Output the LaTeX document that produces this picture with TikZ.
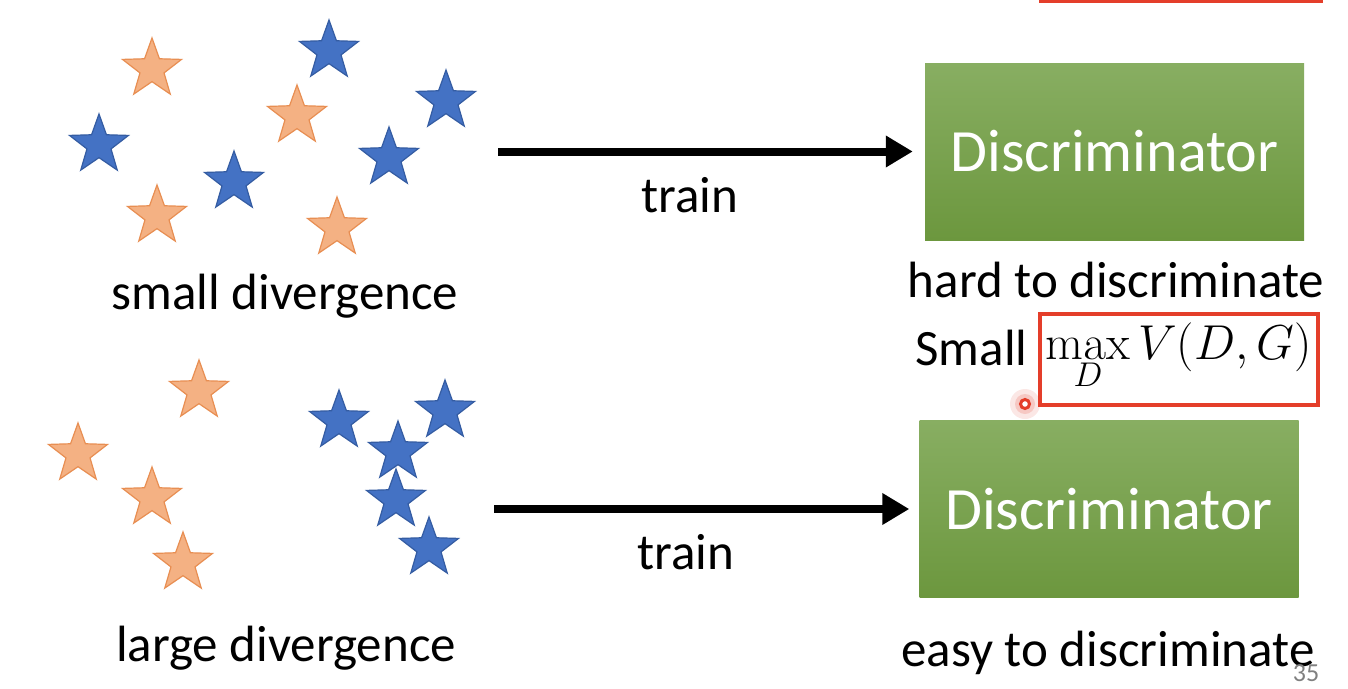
\documentclass[tikz,border=0pt]{standalone}
\usepackage{fix-cm}
\usepackage[no-math]{fontspec}
\setmainfont{Carlito}
\usetikzlibrary{shapes.geometric}
\usetikzlibrary{arrows.meta}

\definecolor{starorange}{RGB}{244,177,131}
\definecolor{orangeedge}{RGB}{232,142,82}
\definecolor{starblue}{RGB}{68,114,196}
\definecolor{blueedge}{RGB}{52,92,162}
\definecolor{boxtop}{RGB}{136,174,98}
\definecolor{boxbottom}{RGB}{108,151,62}
\definecolor{markred}{RGB}{228,62,42}

\begin{document}
\begin{tikzpicture}[x=1pt, y=-1pt,
 ostar/.style={star, star points=5, star point ratio=2.45, minimum size=62pt, inner sep=0, fill=starorange, draw=orangeedge, line width=1.2pt},
 bstar/.style={star, star points=5, star point ratio=2.45, minimum size=62pt, inner sep=0, fill=starblue, draw=blueedge, line width=1.2pt},
 disc/.style={rectangle, top color=boxtop, bottom color=boxbottom, text=white, minimum width=379pt, minimum height=177pt, font=\fontsize{60}{72}\selectfont},
 lbl/.style={anchor=base, font=\fontsize{51}{61}\selectfont},
 trainarrow/.style={line width=8pt, -{Triangle[length=27pt,width=30pt]}}
]
\useasboundingbox (0,0) rectangle (1348,688);
\fill[white] (0,0) rectangle (1348,688);

% small divergence
\foreach \x/\y [count=\i] in {152/69, 297/116, 157/216, 337/228}
 \node[ostar] (oa\i) at (\x,\y) {};
\foreach \x/\y [count=\i] in {329/51, 446/101, 99/145, 234/182, 389/158}
 \node[bstar] (ba\i) at (\x,\y) {};
\node[lbl] (smalldiv) at (285,309) {small divergence};

% large divergence
\foreach \x/\y [count=\i] in {199/391, 78/454, 152/498, 183/563}
 \node[ostar] (ob\i) at (\x,\y) {};
\foreach \x/\y [count=\i] in {339/421, 445/411, 396/500, 398/452, 429/548}
 \node[bstar] (bb\i) at (\x,\y) {};
\node[lbl] (largediv) at (286,661) {large divergence};

% discriminators
\node[disc] (discA) at (1114.5,151.5) {Discriminator};
\node[disc] (discB) at (1109,509) {Discriminator};

\coordinate (srcA) at (498,151.5);
\coordinate (srcB) at (494,509);
\draw[trainarrow] (srcA) -- ([xshift=-12pt]discA.west);
\draw[trainarrow] (srcB) -- ([xshift=-10pt]discB.west);
\node[lbl] (trainA) at (690,212) {train};
\node[lbl] (trainB) at (686,569) {train};

\node[lbl] (hard) at (1116,297) {hard to discriminate};
\node[lbl, anchor=base east] (small) at (1031,365) {Small};
\node[draw=markred, line width=4pt, minimum width=278pt, minimum height=91pt, inner sep=0, font=\fontsize{49}{58}\selectfont] (vmax) at (1179,359.5) {$\max\limits_{\vphantom{(}D} V(D,G)$};
\node[lbl] (easy) at (1108,666) {easy to discriminate};
\node[text=gray, font=\fontsize{26}{30}\selectfont] (page) at (1306,673) {35};

% marks
\draw[markred, line width=4pt] (1041,-30) rectangle (1321,1);
\fill[markred, opacity=.12] (1025,404) circle (15pt);
\fill[markred, opacity=.18] (1025,404) circle (10pt);
\draw[markred, line width=3pt, fill=white] (1025,404) circle (4.5pt);
\end{tikzpicture}
\end{document}
